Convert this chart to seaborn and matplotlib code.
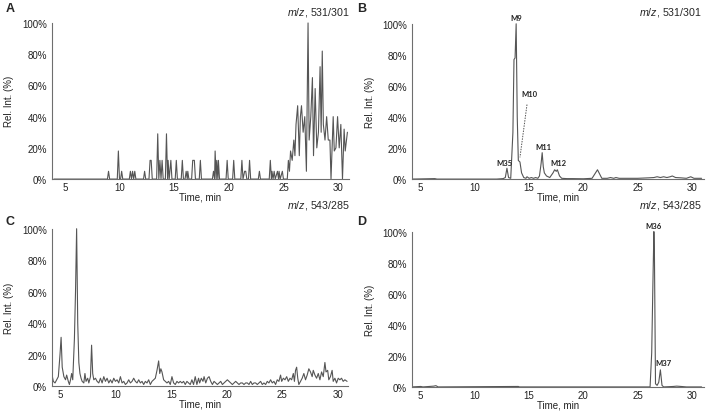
import numpy as np
import pandas as pd
import matplotlib
matplotlib.use("Agg")
import matplotlib.pyplot as plt
import seaborn as sns

# Cromatogramas (tempo em min, intensidade relativa em %)
time_a = [4.0, 8.9, 9.0, 9.1, 9.8, 9.9, 10.0, 10.1, 10.2, 10.3, 10.9, 11.0, 11.1, 11.2, 11.3,
          11.4, 11.5, 12.2, 12.3, 12.4, 12.7, 12.8, 12.9, 13.0, 13.4, 13.5, 13.6, 13.7, 13.8,
          13.9, 14.0, 14.2, 14.3, 14.4, 14.45, 14.55, 14.7, 14.8, 15.1, 15.2, 15.3, 15.65,
          15.75, 15.85, 16.0, 16.1, 16.2, 16.25, 16.35, 16.6, 16.7, 16.85, 16.95, 17.3, 17.4,
          17.5, 18.5, 18.6, 18.7, 18.75, 18.85, 18.9, 19.0, 19.05, 19.15, 19.75, 19.85, 19.95,
          20.35, 20.45, 20.55, 21.1, 21.2, 21.3, 21.45, 21.55, 21.65, 21.8, 21.9, 22.0, 22.7,
          22.8, 22.9, 23.7, 23.8, 23.9, 23.95, 24.05, 24.15, 24.25, 24.45, 24.55, 24.6, 24.7,
          24.9, 25.0, 25.35, 25.45, 25.55, 25.65, 25.8, 25.95, 26.05, 26.15, 26.3, 26.45,
          26.55, 26.65, 26.8, 26.95, 27.1, 27.25, 27.35, 27.5, 27.65, 27.75, 27.9, 28.05, 28.2,
          28.35, 28.45, 28.55, 28.65, 28.8, 28.95, 29.1, 29.25, 29.35, 29.55, 29.65, 29.8,
          29.95, 30.1, 30.25, 30.4, 30.55, 30.65, 30.85]
rel_a = [0, 0, 5, 0, 0, 18, 0, 0, 5, 0, 0, 5, 0, 5, 0,
         5, 0, 0, 5, 0, 0, 12, 12, 0, 0, 29, 0, 12, 0,
         12, 0, 0, 29, 0, 12, 0, 12, 0, 0, 12, 0, 0,
         12, 0, 0, 5, 0, 5, 0, 0, 12, 12, 0, 0, 12,
         0, 0, 5, 0, 18, 0, 12, 0, 12, 0, 0, 12, 0,
         0, 12, 0, 0, 12, 0, 5, 5, 0, 0, 12, 0, 0,
         5, 0, 0, 12, 0, 5, 0, 5, 0, 5, 0, 5, 0,
         5, 0, 0, 12, 5, 18, 12, 25, 15, 35, 47, 15,
         40, 47, 30, 40, 5, 100, 25, 40, 65, 15, 58, 20, 30,
         72, 30, 82, 35, 25, 40, 25, 25, 0, 40, 18, 20,
         40, 20, 35, 0, 32, 18, 30]

time_b = [4.2, 6.3, 6.5, 10.0, 12.0, 12.6, 12.8, 12.95, 13.1, 13.3, 13.5, 13.6, 13.7, 13.8,
          13.9, 14.0, 14.15, 14.3, 14.5, 14.7, 14.8, 15.0, 15.2, 15.4, 15.6, 15.8, 15.95, 16.1,
          16.2, 16.3, 16.4, 16.6, 16.9, 17.2, 17.35, 17.5, 17.6, 17.8, 18.0, 18.5, 19.0, 20.0,
          20.8, 21.3, 21.7, 22.2, 22.5, 22.8, 23.0, 23.3, 24.0, 25.0, 26.0, 26.5, 26.8, 27.1,
          27.4, 27.7, 28.0, 28.2, 28.5, 29.0, 29.5, 29.9, 30.2, 30.9]
rel_b = [0, 0.3, 0, 0, 0, 0.3, 1, 7, 1, 0.5, 30, 77, 78, 100,
         40, 12, 11, 4, 1, 0.5, 1.5, 0.5, 1, 0.5, 1, 0.5, 2, 10,
         17, 8, 4, 2, 1, 4, 6, 5, 6, 2, 0.5, 0.3, 0.3, 0.2,
         0.5, 6, 0.5, 0.5, 1, 0.5, 1, 0.5, 0.5, 0.5, 0.8, 1, 1.5, 1,
         1.5, 1, 1.5, 2, 1, 0.8, 0.5, 1.5, 0.5, 0.5]

time_c = [4.2, 4.35, 4.5, 4.65, 4.8, 4.95, 5.05, 5.15, 5.3, 5.45, 5.55, 5.7, 5.8, 5.9, 6.0,
          6.1, 6.25, 6.35, 6.45, 6.55, 6.65, 6.75, 6.85, 6.95, 7.1, 7.2, 7.3, 7.45, 7.55, 7.7,
          7.8, 7.9, 8.0, 8.15, 8.3, 8.45, 8.6, 8.75, 8.9, 9.05, 9.2, 9.35, 9.5, 9.65, 9.8,
          9.95, 10.1, 10.25, 10.4, 10.55, 10.7, 10.85, 11.0, 11.15, 11.3, 11.45, 11.6, 11.75,
          11.9, 12.05, 12.2, 12.35, 12.5, 12.65, 12.8, 12.95, 13.1, 13.25, 13.4, 13.55, 13.7,
          13.85, 13.95, 14.05, 14.15, 14.3, 14.45, 14.6, 14.75, 14.9, 15.05, 15.2, 15.35, 15.5,
          15.65, 15.8, 15.95, 16.1, 16.25, 16.4, 16.55, 16.7, 16.85, 17.0, 17.15, 17.3, 17.45,
          17.55, 17.7, 17.85, 17.95, 18.1, 18.25, 18.4, 18.55, 18.7, 18.85, 19.0, 19.15, 19.3,
          19.45, 19.6, 19.75, 19.9, 20.05, 20.2, 20.35, 20.5, 20.65, 20.8, 20.95, 21.1, 21.25,
          21.4, 21.55, 21.7, 21.85, 22.0, 22.15, 22.3, 22.45, 22.6, 22.75, 22.9, 23.05, 23.2,
          23.35, 23.5, 23.65, 23.8, 23.95, 24.1, 24.25, 24.4, 24.55, 24.7, 24.85, 24.95, 25.1,
          25.25, 25.4, 25.55, 25.7, 25.85, 26.0, 26.1, 26.2, 26.3, 26.4, 26.5, 26.65, 26.8,
          26.95, 27.1, 27.25, 27.4, 27.55, 27.7, 27.8, 27.95, 28.1, 28.25, 28.4, 28.55, 28.7,
          28.85, 28.95, 29.1, 29.2, 29.35, 29.5, 29.6, 29.75, 29.9, 30.05, 30.2, 30.35, 30.5,
          30.65, 30.85]
rel_c = [8, 3, 2, 4, 6, 20, 31, 12, 6, 4, 7, 3, 1, 4, 8,
         4, 30, 60, 100, 40, 15, 8, 5, 3, 2, 8, 3, 5, 2, 6,
         26, 8, 4, 5, 3, 2, 5, 2, 6, 3, 5, 2, 4, 2, 5,
         3, 4, 2, 6, 2, 3, 1, 2, 4, 2, 3, 5, 3,
         2, 4, 2, 3, 1, 3, 2, 4, 1, 3, 4, 5, 10,
         16, 8, 11, 9, 4, 3, 2, 3, 1, 6, 2, 1, 3,
         2, 3, 2, 3, 1, 3, 2, 1, 4, 1, 6, 1, 5,
         2, 5, 3, 6, 2, 5, 6, 3, 1, 3, 2, 1, 2,
         3, 1, 2, 3, 4, 3, 2, 1, 2, 3, 2, 1, 2,
         2, 1, 2, 2, 1, 3, 1, 2, 2, 1, 2, 3, 1,
         2, 1, 3, 2, 4, 2, 3, 1, 4, 3, 7, 3, 5,
         4, 6, 3, 5, 4, 8, 3, 10, 12, 5, 1, 3, 5,
         8, 4, 7, 11, 9, 6, 10, 7, 5, 8, 4, 9, 6,
         15, 9, 10, 4, 6, 10, 3, 5, 2, 5, 4, 5, 3,
         4, 3]

time_d = [4.2, 5.0, 5.2, 6.2, 6.4, 6.6, 14.0, 14.1, 26.15, 26.3, 26.4, 26.5, 26.55, 26.65,
          26.8, 26.95, 27.1, 27.25, 27.4, 28.3, 28.6, 29.0, 29.5, 30.9]
rel_d = [0, 0.3, 0, 0.5, 0.8, 0, 0.3, 0, 0, 22, 62, 100, 87, 2,
         1, 3, 11, 1, 0, 0.3, 0.5, 0.3, 0, 0]

panel_letters = ["A", "B", "C", "D"]
mz_labels = ["531/301", "531/301", "543/285", "543/285"]
y_ticks = [0, 20, 40, 60, 80, 100]
x_ticks = [5, 10, 15, 20, 25, 30]

# anotacoes dos picos: (texto, tempo, %)
picos_b = [("M9", 13.85, 104), ("M10", 15.05, 55), ("M35", 12.75, 11), ("M11", 16.35, 21),
           ("M12", 17.7, 11)]
picos_d = [("M36", 26.5, 104), ("M37", 27.35, 16)]

sns.set_style("white")
plt.rcParams['font.family'] = ['Liberation Sans', 'DejaVu Sans']
plt.rcParams['mathtext.fontset'] = 'custom'
plt.rcParams['mathtext.it'] = 'Liberation Sans:italic'
plt.rcParams['mathtext.rm'] = 'Liberation Sans'

fig = plt.figure(figsize=(7.08, 4.14), dpi=100)

# posicoes dos eixos [left, bottom, width, height]
boxes = [[0.073, 0.565, 0.420, 0.379],
         [0.582, 0.565, 0.412, 0.377],
         [0.073, 0.065, 0.418, 0.382],
         [0.582, 0.063, 0.412, 0.377]]
xlims = [(3.8, 31.0), (4.2, 31.1), (4.2, 30.9), (4.2, 31.1)]
dados = [(time_a, rel_a), (time_b, rel_b), (time_c, rel_c), (time_d, rel_d)]

axes = []
for i, (t, v) in enumerate(dados):
    ax = fig.add_axes(boxes[i])
    df = pd.DataFrame({'Tempo': t, 'Int': v})
    sns.lineplot(data=df, x='Tempo', y='Int', ax=ax, color='#555555', linewidth=0.8,
                 estimator=None)
    ax.set_xlim(*xlims[i])
    ax.set_ylim(0, 100.5)
    ax.set_xticks(x_ticks)
    ax.set_xticks(np.arange(5, 31, 1), minor=True)
    ax.set_yticks(y_ticks)
    ax.set_yticklabels([f"{y}%" for y in y_ticks])
    for s in ['top', 'right']:
        ax.spines[s].set_visible(False)
    for s in ['left', 'bottom']:
        ax.spines[s].set_color('#6e6e6e')
        ax.spines[s].set_linewidth(0.8)
    ax.spines['left'].set_bounds(0, 100)
    ax.tick_params(axis='both', labelsize=7, colors='#222222', pad=2)
    ax.tick_params(axis='x', which='major', direction='in', length=2.5, color='#888888')
    ax.tick_params(axis='x', which='minor', direction='in', length=1.5, color='#aaaaaa')
    ax.tick_params(axis='y', direction='out', length=1.5, color='#888888')
    ax.set_xlabel('Time, min', fontsize=7, color='#222222')
    ax.set_ylabel('Rel. Int. (%)', fontsize=7, color='#222222')
    ax.yaxis.set_label_coords(-0.128, 0.5)
    ax.xaxis.set_label_coords(0.5, -0.08)
    axes.append(ax)

# letras dos paineis e m/z
fig.text(0.008, 0.993, "A", fontsize=9, fontweight='bold', va='top', ha='left')
fig.text(0.504, 0.993, "B", fontsize=9, fontweight='bold', va='top', ha='left')
fig.text(0.008, 0.478, "C", fontsize=9, fontweight='bold', va='top', ha='left')
fig.text(0.504, 0.478, "D", fontsize=9, fontweight='bold', va='top', ha='left')
fig.text(0.494, 0.970, r"$m/z$, " + mz_labels[0], fontsize=7.7, ha='right', va='center')
fig.text(0.992, 0.970, r"$m/z$, " + mz_labels[1], fontsize=7.7, ha='right', va='center')
fig.text(0.494, 0.503, r"$m/z$, " + mz_labels[2], fontsize=7.7, ha='right', va='center')
fig.text(0.992, 0.503, r"$m/z$, " + mz_labels[3], fontsize=7.7, ha='right', va='center')

for nome, t, v in picos_b:
    axes[1].text(t, v, nome, fontsize=5.5, fontweight='bold', family='Lato',
                 ha='center', va='center', color='#222222', clip_on=False)
axes[1].plot([14.8, 14.15], [48, 14], linestyle=(0, (1.5, 1.2)), color='#555555', linewidth=0.7)

for nome, t, v in picos_d:
    axes[3].text(t, v, nome, fontsize=5.5, fontweight='bold', family='Lato',
                 ha='center', va='center', color='#222222', clip_on=False)

plt.savefig('out.png', dpi=100)
plt.close()
